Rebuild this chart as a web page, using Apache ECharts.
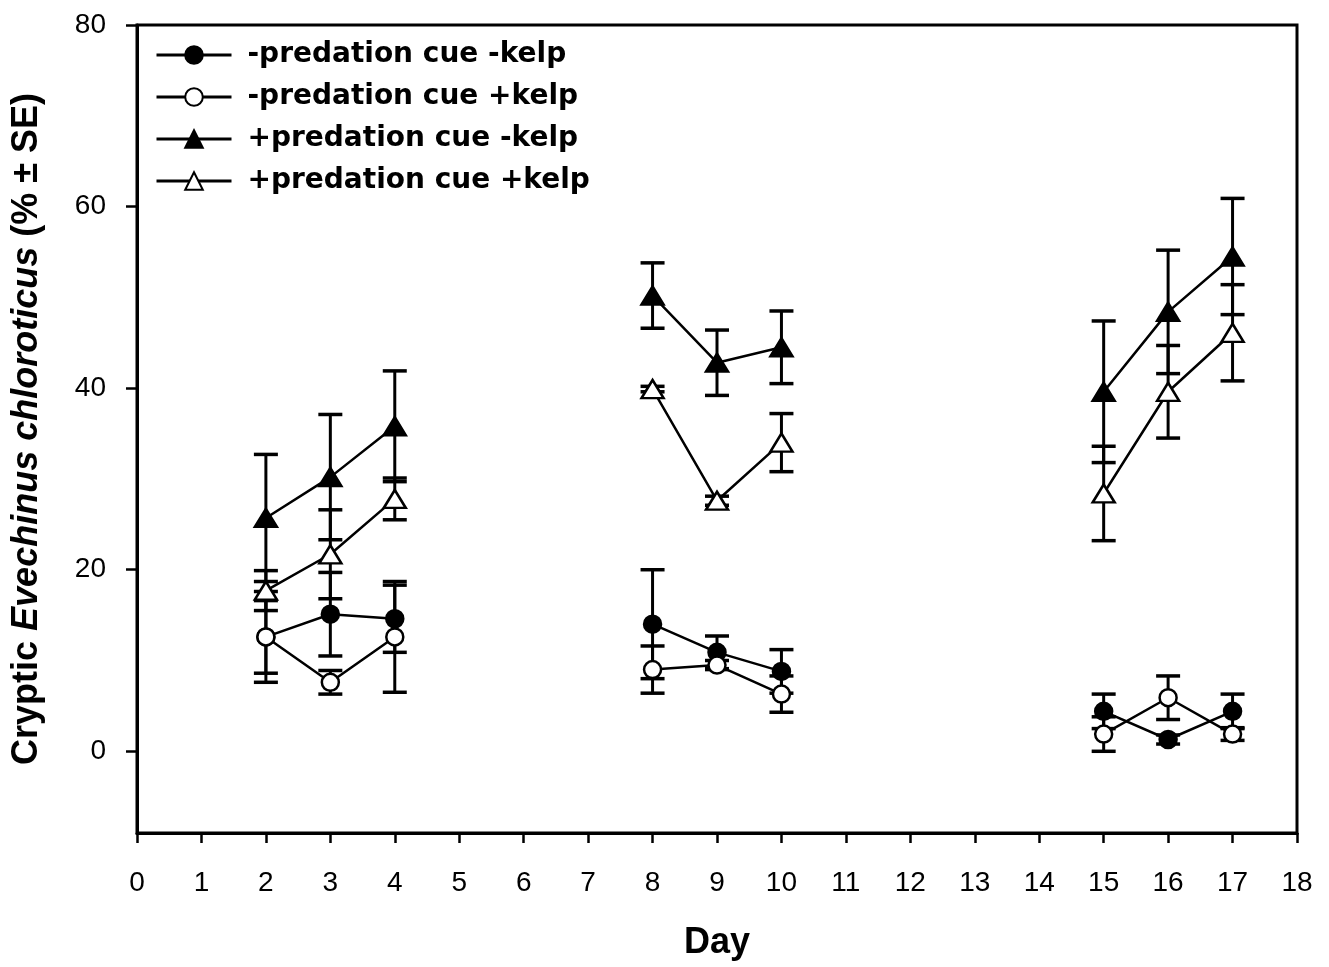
<!DOCTYPE html>
<html>
<head>
<meta charset="utf-8">
<script src="https://cdn.jsdelivr.net/npm/echarts@6/dist/echarts.min.js"></script>
<style>
html,body{margin:0;padding:0;background:#fff;}
#c{width:1329px;height:967px;}
</style>
</head>
<body>
<div id="c"></div>
<script>
const days = [2, 3, 4, 8, 9, 10, 15, 16, 17];
const seriesNames = ['-predation cue -kelp', '-predation cue +kelp', '+predation cue -kelp', '+predation cue +kelp'];
const fcMean = [12.6, 15.1, 14.6, 14.0, 10.9, 8.8, 4.4, 1.3, 4.4];
const fcSE   = [5.0, 4.6, 3.7, 6.0, 1.8, 2.4, 1.9, 0.5, 1.9];
const ocMean = [12.6, 7.6, 12.6, 9.0, 9.5, 6.3, 1.9, 5.9, 1.9];
const ocSE   = [4.0, 1.3, 6.1, 2.6, 0.5, 2.0, 1.9, 2.4, 0.7];
const ftMean = [25.7, 30.2, 35.8, 50.2, 42.8, 44.5, 39.6, 48.4, 54.5];
const ftSE   = [7.0, 6.9, 6.1, 3.6, 3.6, 4.0, 7.8, 6.8, 6.4];
const otMean = [17.7, 21.7, 27.8, 39.9, 27.6, 34.0, 28.4, 39.6, 46.1];
const otSE   = [2.2, 4.9, 2.3, 0.3, 0.5, 3.2, 5.2, 5.1, 5.3];
const yTicks = [0, 20, 40, 60, 80];

function lineData(means) {
  const out = [];
  for (let i = 0; i < days.length; i++) {
    if (i > 0 && days[i] - days[i - 1] > 1) out.push([days[i - 1], '-']);
    out.push([days[i], means[i]]);
  }
  return out;
}
function errData(means, se) {
  return days.map((d, i) => [d, means[i] - se[i], means[i] + se[i]]);
}
function renderErr(params, api) {
  const x = api.value(0), lo = api.value(1), hi = api.value(2);
  const p1 = api.coord([x, hi]), p2 = api.coord([x, lo]);
  const hw = 12;
  const st = {stroke: '#000', lineWidth: 3};
  return {type: 'group', children: [
    {type: 'line', shape: {x1: p1[0], y1: p1[1], x2: p2[0], y2: p2[1]}, style: st},
    {type: 'line', shape: {x1: p1[0] - hw, y1: p1[1], x2: p1[0] + hw, y2: p1[1]}, style: {stroke: '#000', lineWidth: 3.5}},
    {type: 'line', shape: {x1: p2[0] - hw, y1: p2[1], x2: p2[0] + hw, y2: p2[1]}, style: {stroke: '#000', lineWidth: 3.5}}
  ]};
}

const means = [fcMean, ocMean, ftMean, otMean];
const ses = [fcSE, ocSE, ftSE, otSE];
const symbols = ['circle', 'circle', 'triangle', 'triangle'];
const sizes = [17, 17, [22, 18], [22, 18]];
const fills = ['#000', '#fff', '#000', '#fff'];

const series = [];
for (let k = 0; k < 4; k++) {
  series.push({
    type: 'custom', name: seriesNames[k] + ' SE', renderItem: renderErr,
    data: errData(means[k], ses[k]), encode: {x: 0, y: [1, 2]}, z: 1, silent: true
  });
}
for (let k = 0; k < 4; k++) {
  series.push({
    type: 'line', name: seriesNames[k], data: lineData(means[k]),
    symbol: symbols[k], symbolSize: sizes[k], showAllSymbol: true,
    connectNulls: false, z: 3 + k,
    lineStyle: {color: '#000', width: 2.5},
    itemStyle: {color: fills[k], borderColor: '#000', borderWidth: 2.5}
  });
}

const chart = echarts.init(document.getElementById('c'));
chart.setOption({
  animation: false,
  backgroundColor: '#fff',
  grid: {left: 137, right: 32, top: 25, bottom: 134, show: true, borderColor: '#000', borderWidth: 3, backgroundColor: 'transparent'},
  legend: {
    data: seriesNames, orient: 'vertical', left: 155, top: 40, padding: 0,
    itemWidth: 75, itemHeight: 22, itemGap: 12,
    lineStyle: {width: 3, color: '#000'},
    textStyle: {fontFamily: 'DejaVu Sans', fontWeight: 'bold', fontSize: 28, color: '#000', lineHeight: 30, padding: [0, 0, 0, 11]}
  },
  xAxis: {
    type: 'value', min: 0, max: 18, interval: 1,
    name: 'Day', nameLocation: 'middle', nameGap: 92,
    nameTextStyle: {fontFamily: 'Liberation Sans', fontWeight: 'bold', fontSize: 36, color: '#000'},
    axisLine: {onZero: false, lineStyle: {color: '#000', width: 3}},
    axisTick: {length: 10, lineStyle: {color: '#000', width: 2.5}},
    axisLabel: {margin: 36, fontFamily: 'Liberation Sans', fontSize: 28, color: '#000'},
    splitLine: {show: false}
  },
  yAxis: {
    type: 'value', min: -9, max: 80,
    name: '{b|Cryptic }{i|Evechinus chloroticus}{b| (% ± SE)}',
    nameLocation: 'middle', nameGap: 92, nameRotate: 90,
    nameTextStyle: {
      rich: {
        b: {fontFamily: 'Liberation Sans', fontWeight: 'bold', fontSize: 36, color: '#000'},
        i: {fontFamily: 'Liberation Sans', fontWeight: 'bold', fontStyle: 'italic', fontSize: 36, color: '#000'}
      }
    },
    axisLine: {onZero: false, lineStyle: {color: '#000', width: 3}},
    axisTick: {length: 11, lineStyle: {color: '#000', width: 2.5}, customValues: yTicks},
    axisLabel: {margin: 31, fontFamily: 'Liberation Sans', fontSize: 28, color: '#000', customValues: yTicks},
    splitLine: {show: false}
  },
  series: series
});
</script>
</body>
</html>
